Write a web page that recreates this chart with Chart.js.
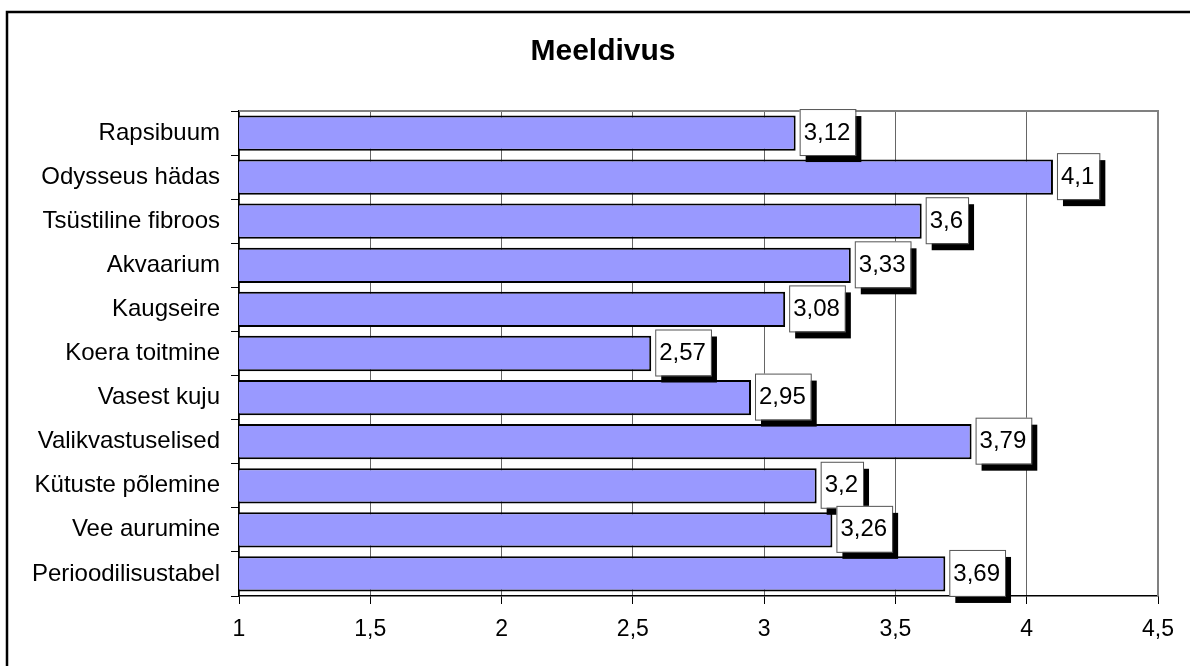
<!DOCTYPE html>
<html>
<head>
<meta charset="utf-8">
<script src="https://cdn.jsdelivr.net/npm/chart.js@4.4.1/dist/chart.umd.min.js"></script>
<style>
  body { margin: 0; background: #fff; }
  #wrap { width: 1190px; height: 666px; }
</style>
</head>
<body>
<div id="wrap"><canvas id="chart" width="1190" height="666"></canvas></div>
<script>
const chartTitle = "Meeldivus";
const categories = [
  "Rapsibuum", "Odysseus hädas", "Tsüstiline fibroos", "Akvaarium", "Kaugseire",
  "Koera toitmine", "Vasest kuju", "Valikvastuselised", "Kütuste põlemine",
  "Vee aurumine", "Perioodilisustabel"
];
const scores = [3.12, 4.1, 3.6, 3.33, 3.08, 2.57, 2.95, 3.79, 3.2, 3.26, 3.69];
const xMin = 1, xMax = 4.5, xStep = 0.5;

const font = "'Liberation Sans', Arial, sans-serif";
const comma = (v) => String(v).replace(".", ",");

// outer frame, white background and the title (centred on the frame, not the canvas)
const framePlugin = {
  id: "frame",
  beforeDraw(chart) {
    const ctx = chart.ctx;
    ctx.save();
    ctx.fillStyle = "#fff";
    ctx.fillRect(0, 0, chart.width, chart.height);
    ctx.strokeStyle = "#000";
    ctx.lineWidth = 2.5;
    ctx.beginPath();
    ctx.moveTo(7, chart.height + 5);
    ctx.lineTo(7, 12);
    ctx.lineTo(chart.width + 5, 12);
    ctx.stroke();
    ctx.fillStyle = "#000";
    ctx.font = "bold 30px " + font;
    ctx.textAlign = "center";
    ctx.textBaseline = "middle";
    ctx.fillText(chartTitle, 603, 52);
    ctx.restore();
  },
  beforeDatasetsDraw(chart) {
    const a = chart.chartArea, ctx = chart.ctx;
    ctx.save();
    ctx.strokeStyle = "#808080";
    ctx.lineWidth = 2;
    ctx.beginPath();
    ctx.moveTo(a.left, a.top);
    ctx.lineTo(a.right, a.top);
    ctx.lineTo(a.right, a.bottom);
    ctx.stroke();
    ctx.restore();
  }
};

// boxed value labels with a drop shadow
const boxLabels = {
  id: "boxLabels",
  afterDatasetsDraw(chart) {
    const ctx = chart.ctx;
    const meta = chart.getDatasetMeta(0);
    ctx.save();
    ctx.font = "24px " + font;
    ctx.textBaseline = "middle";
    ctx.textAlign = "left";
    meta.data.forEach((bar, i) => {
      const txt = comma(scores[i]);
      const w = ctx.measureText(txt).width + 9;
      const h = 46;
      const x = bar.x + 4;
      const y = bar.y - 24;
      ctx.fillStyle = "#000";
      ctx.fillRect(x + 6, y + 7, w, h);
      ctx.fillStyle = "#fff";
      ctx.fillRect(x, y, w, h);
      ctx.strokeStyle = "#555";
      ctx.lineWidth = 1;
      ctx.strokeRect(x + 0.5, y + 0.5, w, h);
      ctx.fillStyle = "#000";
      ctx.fillText(txt, x + 4, bar.y);
    });
    ctx.restore();
  }
};

new Chart(document.getElementById("chart"), {
  type: "bar",
  data: {
    labels: categories,
    datasets: [{
      data: scores,
      backgroundColor: "#9999FF",
      borderColor: "#000",
      borderWidth: 2,
      borderSkipped: false,
      barPercentage: 0.8,
      categoryPercentage: 1
    }]
  },
  options: {
    indexAxis: "y",
    responsive: false,
    animation: false,
    layout: { padding: { left: 0, right: 32, top: 111, bottom: 0 } },
    plugins: {
      legend: { display: false },
      tooltip: { enabled: false },
      title: { display: false }
    },
    scales: {
      x: {
        min: xMin,
        max: xMax,
        afterFit: (s) => { s.height = 70; },
        ticks: {
          stepSize: xStep,
          color: "#000",
          padding: 12,
          font: { family: font, size: 23 },
          callback: (v) => comma(v)
        },
        grid: { color: "#666", lineWidth: 1, tickColor: "#000", tickLength: 8 },
        border: { display: true, color: "#000", width: 1.5 }
      },
      y: {
        afterFit: (s) => { s.width = 239; },
        ticks: {
          color: "#000",
          padding: 11,
          font: { family: font, size: 24 }
        },
        grid: { offset: true, drawOnChartArea: false, tickColor: "#000", tickLength: 8 },
        border: { display: true, color: "#000", width: 1.5 }
      }
    }
  },
  plugins: [framePlugin, boxLabels]
});
</script>
</body>
</html>
